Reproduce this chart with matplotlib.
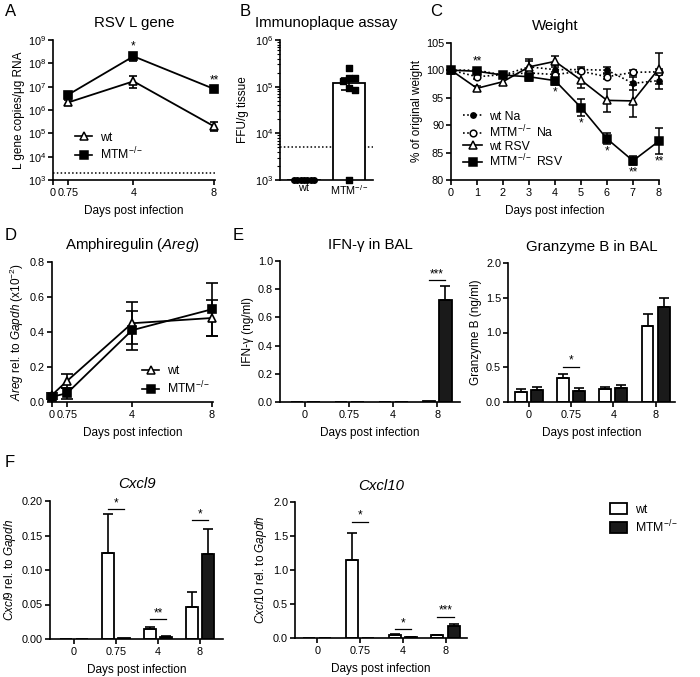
import numpy as np
import matplotlib
matplotlib.use('Agg')
import matplotlib.pyplot as plt
from matplotlib.patches import Rectangle
from matplotlib.lines import Line2D
from matplotlib.ticker import LogLocator, NullLocator, FormatStrFormatter

plt.rcParams['font.family'] = ['Liberation Sans', 'DejaVu Sans']
plt.rcParams['mathtext.fontset'] = 'custom'
plt.rcParams['mathtext.rm'] = 'Liberation Sans'
plt.rcParams['mathtext.it'] = 'Liberation Sans:italic'
plt.rcParams['mathtext.bf'] = 'Liberation Sans:bold'
plt.rcParams['axes.linewidth'] = 1.2
plt.rcParams['xtick.major.width'] = 1.2
plt.rcParams['ytick.major.width'] = 1.2
plt.rcParams['xtick.major.size'] = 3.5
plt.rcParams['ytick.major.size'] = 3.5
plt.rcParams['xtick.labelsize'] = 7.8
plt.rcParams['ytick.labelsize'] = 7.8
plt.rcParams['axes.labelsize'] = 8.5
plt.rcParams['xtick.major.pad'] = 2.5
plt.rcParams['ytick.major.pad'] = 1.5

MTM = r'MTM$^{-/-}$'

# ---------------- Data ----------------
# A: RSV L gene
a_days = [0.75, 4, 8]
a_wt = [2.1e6, 1.7e7, 2.0e5]
a_wt_lo = [1.6e6, 9.0e6, 1.2e5]
a_wt_hi = [2.8e6, 2.8e7, 3.0e5]
a_mtm = [4.5e6, 2.0e8, 8.0e6]
a_mtm_lo = [3.5e6, 1.2e8, 6.8e6]
a_mtm_hi = [5.6e6, 2.6e8, 9.0e6]
a_lod = 2e3
a_sig = ['', '*', '**']

# B: Immunoplaque assay
b_groups = ['wt', MTM]
b_wt_points = [1e3, 1e3, 1e3, 1e3, 1e3, 1e3, 1e3]
b_mtm_points = [2.5e5, 1.5e5, 1.5e5, 1.3e5, 9.5e4, 8.5e4, 1e3]
b_bar = [1e3, 1.2e5]
b_bar_lo = [1e3, 8.5e4]
b_bar_hi = [1e3, 1.5e5]
b_lod = 5e3

# C: Weight
c_days = [0, 1, 2, 3, 4, 5, 6, 7, 8]
c_wt_na = [100, 100.0, 99.1, 100.6, 100.1, 100.1, 100.0, 97.6, 98.1]
c_wt_na_err = [0, 0.4, 0.5, 1.0, 0.8, 0.4, 0.6, 1.2, 1.6]
c_mtm_na = [100, 98.8, 99.2, 99.5, 99.2, 99.8, 98.8, 99.6, 99.7]
c_mtm_na_err = [0, 0.5, 0.5, 0.6, 0.5, 0.4, 0.5, 0.4, 0.6]
c_wt_rsv = [100, 96.7, 97.9, 100.6, 101.6, 98.2, 94.5, 94.4, 100.3]
c_wt_rsv_err = [0, 0.5, 0.6, 1.4, 1.0, 1.4, 2.1, 2.9, 2.8]
c_mtm_rsv = [100, 99.8, 99.1, 98.8, 98.1, 93.2, 87.5, 83.5, 87.1]
c_mtm_rsv_err = [0, 0.5, 0.6, 0.7, 0.8, 1.6, 1.0, 0.8, 2.3]
c_sig_above = ['', '**', '', '', '', '', '', '', '']
c_sig_below = ['', '', '', '', '*', '*', '*', '**', '**']

# D: Amphiregulin
d_days = [0, 0.75, 4, 8]
d_wt = [0.04, 0.12, 0.45, 0.48]
d_wt_err = [0.01, 0.04, 0.12, 0.105]
d_mtm = [0.03, 0.05, 0.41, 0.53]
d_mtm_err = [0.01, 0.03, 0.11, 0.15]

# E / F: bar charts
cats = ['0', '0.75', '4', '8']
ifn_wt = [0, 0, 0, 0.01]
ifn_wt_err = [0, 0, 0, 0]
ifn_mtm = [0, 0, 0, 0.72]
ifn_mtm_err = [0, 0, 0, 0.10]
ifn_sig = [(3, 0.865, '***')]

gzb_wt = [0.15, 0.35, 0.19, 1.09]
gzb_wt_err = [0.04, 0.06, 0.03, 0.18]
gzb_mtm = [0.17, 0.16, 0.20, 1.37]
gzb_mtm_err = [0.05, 0.04, 0.05, 0.12]
gzb_sig = [(1, 0.51, '*')]

cxcl9_wt = [0.0006, 0.124, 0.014, 0.047]
cxcl9_wt_err = [0, 0.057, 0.004, 0.021]
cxcl9_mtm = [0.0004, 0.0012, 0.003, 0.123]
cxcl9_mtm_err = [0, 0, 0.001, 0.036]
cxcl9_sig = [(1, 0.188, '*'), (2, 0.029, '**'), (3, 0.172, '*')]

cxcl10_wt = [0.002, 1.14, 0.05, 0.04]
cxcl10_wt_err = [0, 0.41, 0.01, 0.01]
cxcl10_mtm = [0.001, 0.006, 0.012, 0.17]
cxcl10_mtm_err = [0, 0, 0.005, 0.03]
cxcl10_sig = [(1, 1.71, '*'), (2, 0.13, '*'), (3, 0.31, '***')]

# ---------------- Figure ----------------
W, H = 700, 677
fig = plt.figure(figsize=(W / 100, H / 100), dpi=100)
XLAB = 8.5
TFS = 10.8
SIGFS = 8.5
XLPAD = 5
LEGFS = 8.8


def px_axes(l, r, t, b):
    return fig.add_axes([l / W, 1 - b / H, (r - l) / W, (b - t) / H])


def style(ax):
    ax.spines['top'].set_visible(False)
    ax.spines['right'].set_visible(False)
    ax.tick_params(direction='out', colors='black')


def title(ax, s, **kw):
    ax.set_title(s, fontsize=TFS, pad=9, **kw)


def mk_handle(mk, fc, ls, ms):
    return Line2D([], [], color='black', ls=ls, lw=1.2, marker=mk, ms=ms, mfc=fc,
                  mec='black', mew=1.1)


# ---- A ----
axA = px_axes(53, 215, 40, 180)
style(axA)
axA.set_yscale('log')
axA.set_ylim(1e3, 1e9)
axA.set_xlim(0, 8.05)
axA.yaxis.set_major_locator(LogLocator(base=10, numticks=10))
axA.yaxis.set_minor_locator(NullLocator())
axA.set_xticks([0, 0.75, 4, 8])
axA.set_xticklabels(['0', '0.75', '4', '8'])
axA.axhline(a_lod, color='black', ls=(0, (1, 1.5)), lw=1.1)
for y, lo, hi, mk, fc in [(a_wt, a_wt_lo, a_wt_hi, '^', 'white'),
                          (a_mtm, a_mtm_lo, a_mtm_hi, 's', 'black')]:
    yerr = [np.array(y) - np.array(lo), np.array(hi) - np.array(y)]
    axA.errorbar(a_days, y, yerr=yerr, color='black', lw=1.3, marker=mk, ms=5.8,
                 mfc=fc, mec='black', mew=1.2, capsize=3, capthick=1.2, elinewidth=1.2,
                 clip_on=False, zorder=3)
for xd, hi, s in zip(a_days, a_mtm_hi, a_sig):
    if s:
        axA.annotate(s, (xd, hi), xytext=(0, 1), textcoords='offset points',
                     ha='center', va='bottom', fontsize=SIGFS)
axA.set_ylabel('L gene copies/μg RNA', labelpad=2)
axA.set_xlabel('Days post infection', fontsize=XLAB, labelpad=XLPAD)
title(axA, 'RSV L gene')
axA.legend([mk_handle('^', 'white', '-', 5.5), mk_handle('s', 'black', '-', 5.5)], ['wt', MTM],
           loc='lower left', bbox_to_anchor=(0.1, 0.08), frameon=False, fontsize=LEGFS,
           handlelength=1.4, handletextpad=0.6, labelspacing=0.2, borderpad=0)

# ---- B ----
axB = px_axes(280, 373, 40, 180)
style(axB)
axB.set_yscale('log')
axB.set_ylim(1e3, 1e6)
axB.set_xlim(-0.53, 1.53)
axB.yaxis.set_major_locator(LogLocator(base=10, numticks=10))
axB.yaxis.set_minor_locator(LogLocator(base=10, subs=np.arange(2, 10), numticks=20))
axB.tick_params(axis='y', which='minor', length=2, width=0.8)
axB.tick_params(axis='x', length=0)
axB.bar([0, 1], b_bar, width=0.69, bottom=0, color='white', edgecolor='black', lw=1.3, zorder=2)
axB.axhline(b_lod, color='black', ls=(0, (1, 1.5)), lw=1.1, zorder=1)
yerr_b = [np.array(b_bar) - np.array(b_bar_lo), np.array(b_bar_hi) - np.array(b_bar)]
axB.errorbar([1], [b_bar[1]], yerr=[[yerr_b[0][1]], [yerr_b[1][1]]], fmt='none',
             ecolor='black', elinewidth=1.2, capsize=6, capthick=1.2, zorder=3)


def swarm(vals, d_px, px_per_dec, px_per_unit):
    placed = []
    offs = []
    for v in vals:
        yv = np.log10(v) * px_per_dec
        k = 0
        while True:
            cands = [0.0] if k == 0 else [k * d_px, -k * d_px]
            ok = None
            for c in cands:
                if all((c - px) ** 2 + (yv - py) ** 2 >= (d_px * 0.999) ** 2 for px, py in placed):
                    ok = c
                    break
            if ok is not None:
                placed.append((ok, yv))
                offs.append(ok / px_per_unit)
                break
            k += 1
    return offs


wt_off = swarm(b_wt_points, 3.4, 46.7, 45)
mtm_off = swarm(b_mtm_points, 6.0, 46.7, 45)
axB.scatter(np.array(wt_off), b_wt_points, marker='o', s=16, color='black', zorder=4, clip_on=False)
axB.scatter(1 + np.array(mtm_off), b_mtm_points, marker='s', s=20, color='black', zorder=4, clip_on=False)
axB.set_xticks([0, 1])
axB.set_xticklabels(b_groups)
axB.set_ylabel('FFU/g tissue', labelpad=4)
title(axB, 'Immunoplaque assay')

# ---- C ----
axC = px_axes(451, 659, 42.7, 180)
style(axC)
axC.set_xlim(0, 8)
axC.set_ylim(80, 105)
axC.set_yticks([80, 85, 90, 95, 100, 105])
axC.set_xticks(c_days)
series = [
    (c_wt_na, c_wt_na_err, 'o', 'black', (0, (1, 1.5)), 3.8, 'wt Na'),
    (c_mtm_na, c_mtm_na_err, 'o', 'white', (0, (1, 1.5)), 4.8, MTM + ' Na'),
    (c_wt_rsv, c_wt_rsv_err, '^', 'white', '-', 5.8, 'wt RSV'),
    (c_mtm_rsv, c_mtm_rsv_err, 's', 'black', '-', 5.8, MTM + ' RSV'),
]
hC = []
for y, e, mk, fc, ls, ms, lab in series:
    axC.errorbar(c_days, y, yerr=e, color='black', ls=ls, lw=1.2, marker=mk, ms=ms,
                 mfc=fc, mec='black', mew=1.1, capsize=3, capthick=1.1, elinewidth=1.1,
                 clip_on=False, zorder=3)
    hC.append(mk_handle(mk, fc, ls, ms))
for xd, y, e, s in zip(c_days, c_mtm_rsv, c_mtm_rsv_err, c_sig_above):
    if s:
        axC.annotate(s, (xd, y + e), xytext=(0, 1), textcoords='offset points',
                     ha='center', va='bottom', fontsize=SIGFS)
for xd, y, e, s in zip(c_days, c_mtm_rsv, c_mtm_rsv_err, c_sig_below):
    if s:
        axC.annotate(s, (xd, y - e), xytext=(0, -1), textcoords='offset points',
                     ha='center', va='top', fontsize=SIGFS)
axC.set_ylabel('% of original weight', labelpad=2)
axC.set_xlabel('Days post infection', fontsize=XLAB, labelpad=XLPAD)
title(axC, 'Weight')
axC.legend(hC, [s[-1] for s in series], loc='lower left', bbox_to_anchor=(0.03, 0.03),
           frameon=False, fontsize=LEGFS, handlelength=1.5, handletextpad=0.6,
           labelspacing=0.05, borderpad=0)

# ---- D ----
axD = px_axes(52, 213, 262, 402)
style(axD)
axD.set_xlim(0, 8.05)
axD.set_ylim(0, 0.8)
axD.set_yticks([0.0, 0.2, 0.4, 0.6, 0.8])
axD.yaxis.set_major_formatter(FormatStrFormatter('%.1f'))
axD.set_xticks(d_days)
axD.set_xticklabels(['0', '0.75', '4', '8'])
for y, e, mk, fc in [(d_wt, d_wt_err, '^', 'white'), (d_mtm, d_mtm_err, 's', 'black')]:
    axD.errorbar(d_days, y, yerr=e, color='black', lw=1.3, marker=mk, ms=5.8,
                 mfc=fc, mec='black', mew=1.2, capsize=4, capthick=1.2, elinewidth=1.2,
                 clip_on=False, zorder=3)
axD.set_ylabel(r'$\mathit{Areg}$ rel. to $\mathit{Gapdh}$ (x10$^{-2}$)', labelpad=3)
axD.set_xlabel('Days post infection', fontsize=XLAB, labelpad=XLPAD)
title(axD, r'Amphiregulin ($\mathit{Areg}$)')
axD.legend([mk_handle('^', 'white', '-', 5.5), mk_handle('s', 'black', '-', 5.5)], ['wt', MTM],
           loc='lower right', bbox_to_anchor=(1.02, 0.0), frameon=False, fontsize=LEGFS,
           handlelength=1.4, handletextpad=0.6, labelspacing=0.15, borderpad=0)


# ---- bar chart helper ----
def bar_panel(ax, wt, wte, mtm, mtme, sig, ylim, yticks, ylabel, xlim):
    style(ax)
    x = np.arange(len(cats))
    off, w = 0.19, 0.28
    ax.bar(x - off, wt, width=w, color='white', edgecolor='black', lw=1.3, zorder=2)
    ax.bar(x + off, mtm, width=w, color='#1a1a1a', edgecolor='black', lw=1.3, zorder=2)
    for xs, v, e in [(x - off, wt, wte), (x + off, mtm, mtme)]:
        v = np.array(v); e = np.array(e)
        m = e > 0
        ax.errorbar(xs[m], v[m], yerr=[np.zeros(m.sum()), e[m]], fmt='none', ecolor='black',
                    elinewidth=1.2, capsize=3.5, capthick=1.2, zorder=3)
    for ci, yv, s in sig:
        ax.plot([ci - off, ci + off], [yv, yv], color='black', lw=0.9)
        ax.annotate(s, (ci, yv), xytext=(0, 0), textcoords='offset points', ha='center',
                    va='bottom', fontsize=SIGFS)
    ax.set_xlim(*xlim)
    ax.set_ylim(*ylim)
    ax.set_yticks(yticks)
    ax.set_xticks(x)
    ax.set_xticklabels(cats)
    ax.set_ylabel(ylabel, labelpad=3)
    ax.set_xlabel('Days post infection', fontsize=XLAB, labelpad=XLPAD)


axE1 = px_axes(280, 460, 261, 402)
bar_panel(axE1, ifn_wt, ifn_wt_err, ifn_mtm, ifn_mtm_err, ifn_sig, (0, 1.0),
          [0.0, 0.2, 0.4, 0.6, 0.8, 1.0], 'IFN-γ (ng/ml)', (-0.57, 3.52))
axE1.yaxis.set_major_formatter(FormatStrFormatter('%.1f'))
title(axE1, 'IFN-γ in BAL')

axE2 = px_axes(508, 675, 263, 402)
bar_panel(axE2, gzb_wt, gzb_wt_err, gzb_mtm, gzb_mtm_err, gzb_sig, (0, 2.0),
          [0.0, 0.5, 1.0, 1.5, 2.0], 'Granzyme B (ng/ml)', (-0.49, 3.46))
axE2.yaxis.set_major_formatter(FormatStrFormatter('%.1f'))
title(axE2, 'Granzyme B in BAL')

axF1 = px_axes(50, 223, 501, 639)
bar_panel(axF1, cxcl9_wt, cxcl9_wt_err, cxcl9_mtm, cxcl9_mtm_err, cxcl9_sig, (0, 0.2),
          [0.0, 0.05, 0.10, 0.15, 0.20], r'$\mathit{Cxcl9}$ rel. to $\mathit{Gapdh}$', (-0.57, 3.55))
axF1.yaxis.set_major_formatter(FormatStrFormatter('%.2f'))
title(axF1, 'Cxcl9', style='italic')

axF2 = px_axes(295, 467, 502, 638)
bar_panel(axF2, cxcl10_wt, cxcl10_wt_err, cxcl10_mtm, cxcl10_mtm_err, cxcl10_sig, (0, 2.0),
          [0.0, 0.5, 1.0, 1.5, 2.0], r'$\mathit{Cxcl10}$ rel. to $\mathit{Gapdh}$', (-0.52, 3.5))
axF2.yaxis.set_major_formatter(FormatStrFormatter('%.1f'))
title(axF2, 'Cxcl10', style='italic')

# F legend
handles = [Rectangle((0, 0), 1, 1, facecolor='white', edgecolor='black', lw=1.3),
           Rectangle((0, 0), 1, 1, facecolor='#1a1a1a', edgecolor='black', lw=1.3)]
fig.legend(handles, ['wt', MTM], loc='upper left', bbox_to_anchor=(604 / W, 1 - 497 / H),
           frameon=False, fontsize=LEGFS, handlelength=1.4, handleheight=1.0,
           handletextpad=0.6, labelspacing=0.2, borderpad=0)

# Panel letters
for s, x, y in [('A', 5, 4), ('B', 240, 4), ('C', 430, 4), ('D', 5, 228), ('E', 233, 228), ('F', 5, 455)]:
    fig.text(x / W, 1 - y / H, s, fontsize=12, ha='left', va='top')

fig.savefig('out.png', dpi=100)
